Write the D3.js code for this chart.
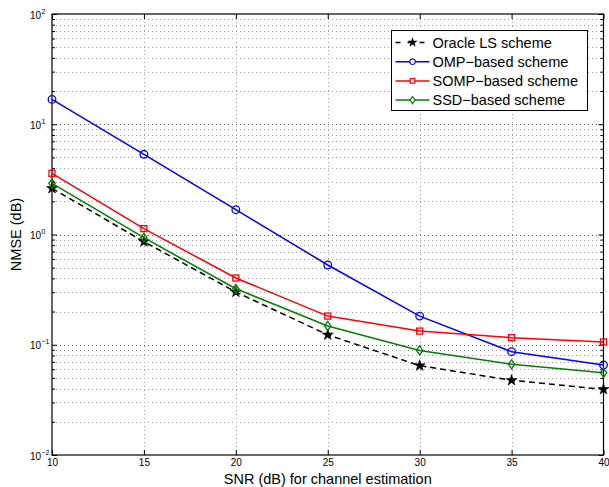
<!DOCTYPE html>
<html>
<head>
<meta charset="utf-8">
<script src="https://cdn.jsdelivr.net/npm/d3@7"></script>
<style>
  html, body { margin: 0; padding: 0; background: #fff; }
  svg { display: block; font-family: "Liberation Sans", Arial, Helvetica, sans-serif; }
</style>
</head>
<body>
<div id="chart"></div>
<script>
// SNR points (dB) shared by all schemes
const snr = [10, 15, 20, 25, 30, 35, 40];

// NMSE values per estimation scheme
const oracleLS = [2.62, 0.861, 0.301, 0.123, 0.0646, 0.0476, 0.0394];
const ompBased = [16.8, 5.34, 1.68, 0.529, 0.182, 0.0865, 0.0655];
const sompBased = [3.59, 1.13, 0.403, 0.182, 0.133, 0.116, 0.106];
const ssdBased = [2.91, 0.935, 0.322, 0.148, 0.0887, 0.0665, 0.0557];

const seriesNames = ["Oracle LS scheme", "OMP\u2212based scheme", "SOMP\u2212based scheme", "SSD\u2212based scheme"];

// Axis tick values
const xTicks = [10, 15, 20, 25, 30, 35, 40];
const yDecades = [-2, -1, 0, 1, 2];

const W = 609, H = 487;
const margin = { left: 52, right: 5.5, top: 14, bottom: 32 };

const svg = d3.select("#chart").append("svg")
  .attr("width", W).attr("height", H);

const x = d3.scaleLinear().domain([10, 40]).range([margin.left, W - margin.right]);
const y = d3.scaleLog().domain([1e-2, 1e2]).range([H - margin.bottom, margin.top]);

const [xl, xr] = x.range();
const [yb, yt] = y.range();

// Minor positions: 2..9 in each decade
const minorY = [];
for (let e = -2; e < 2; e++) for (let m = 2; m <= 9; m++) minorY.push(m * Math.pow(10, e));
const majorY = yDecades.map(e => Math.pow(10, e));

// Dotted grid
const grid = svg.append("g").attr("fill", "none").attr("stroke-width", 1).attr("stroke-dasharray", "1,3");
grid.selectAll("line.minor").data(minorY).join("line")
  .attr("class", "minor")
  .attr("x1", xl).attr("x2", xr)
  .attr("y1", d => Math.round(y(d)) + 0.5).attr("y2", d => Math.round(y(d)) + 0.5)
  .attr("stroke", "#a0a0a0");
grid.selectAll("line.major").data(majorY.slice(1, -1)).join("line")
  .attr("class", "major")
  .attr("x1", xl).attr("x2", xr)
  .attr("y1", d => Math.round(y(d)) + 0.5).attr("y2", d => Math.round(y(d)) + 0.5)
  .attr("stroke", "#555");
grid.selectAll("line.vx").data(xTicks.slice(1, -1)).join("line")
  .attr("class", "vx")
  .attr("x1", d => Math.round(x(d)) + 0.5).attr("x2", d => Math.round(x(d)) + 0.5)
  .attr("y1", yt).attr("y2", yb)
  .attr("stroke", "#a0a0a0");

// Axes with inward ticks on all four sides
const axB = d3.axisBottom(x).tickValues(xTicks).tickSizeInner(-5).tickSizeOuter(0).tickPadding(4).tickFormat(d3.format("d"));
const axT = d3.axisTop(x).tickValues(xTicks).tickSizeInner(-5).tickSizeOuter(0).tickFormat("");
const axL = d3.axisLeft(y).tickValues(majorY).tickSizeInner(-5).tickSizeOuter(0).tickFormat("");
const axR = d3.axisRight(y).tickValues(majorY).tickSizeInner(-5).tickSizeOuter(0).tickFormat("");
const axLm = d3.axisLeft(y).tickValues(minorY).tickSizeInner(-3).tickSizeOuter(0).tickFormat("");
const axRm = d3.axisRight(y).tickValues(minorY).tickSizeInner(-3).tickSizeOuter(0).tickFormat("");

function styleAxis(g) {
  g.selectAll(".domain").remove();
  g.selectAll("line").attr("stroke", "#000");
  g.selectAll("text").attr("font-size", 10).attr("fill", "#000").attr("font-family", "Liberation Sans, Arial, sans-serif");
}
svg.append("g").attr("transform", `translate(0,${yb})`).call(axB).call(styleAxis);
svg.append("g").attr("transform", `translate(0,${yt})`).call(axT).call(styleAxis);
svg.append("g").attr("transform", `translate(${xl},0)`).call(axL).call(styleAxis);
svg.append("g").attr("transform", `translate(${xr},0)`).call(axR).call(styleAxis);
svg.append("g").attr("transform", `translate(${xl},0)`).call(axLm).call(styleAxis);
svg.append("g").attr("transform", `translate(${xr},0)`).call(axRm).call(styleAxis);

// Y tick labels as 10^n
const yLab = svg.append("g").attr("fill", "#000");
yDecades.forEach(e => {
  yLab.append("text")
    .attr("x", xl - 11).attr("y", y(Math.pow(10, e)) + 4.5)
    .attr("text-anchor", "end").attr("font-size", 10)
    .text("10");
  yLab.append("text")
    .attr("x", xl - 10.5).attr("y", y(Math.pow(10, e)) - 0.5)
    .attr("font-size", 7)
    .text(e < 0 ? "\u2212" + Math.abs(e) : String(e));
});

// Plot frame
svg.append("rect")
  .attr("x", xl).attr("y", yt).attr("width", xr - xl).attr("height", yb - yt)
  .attr("fill", "none").attr("stroke", "#000").attr("stroke-width", 1.2);

// Axis titles
svg.append("text")
  .attr("x", (xl + xr) / 2).attr("y", H - 3)
  .attr("text-anchor", "middle").attr("font-size", 14.5)
  .text("SNR (dB) for channel estimation");
svg.append("text")
  .attr("transform", `translate(21,${(yt + yb) / 2}) rotate(-90)`)
  .attr("text-anchor", "middle").attr("font-size", 14.5)
  .text("NMSE (dB)");

// Marker shapes
const diamondPath = "M0,-4.5L3.2,0L0,4.5L-3.2,0Z";
const markers = {
  star: g => g.append("path").attr("d", d3.symbol(d3.symbolStar, 38)()).attr("fill", "#000").attr("stroke", "#000").attr("stroke-width", 0.6),
  circle: (g, c) => g.append("circle").attr("r", 3.8).attr("fill", "none").attr("stroke", c).attr("stroke-width", 1.3),
  square: (g, c) => g.append("rect").attr("x", -3).attr("y", -3).attr("width", 6).attr("height", 6).attr("fill", "none").attr("stroke", c).attr("stroke-width", 1.3),
  diamond: (g, c) => g.append("path").attr("d", diamondPath).attr("fill", "none").attr("stroke", c).attr("stroke-width", 1.3)
};

const series = [
  { name: seriesNames[0], values: oracleLS, color: "#000", dash: "6,4", marker: "star" },
  { name: seriesNames[1], values: ompBased, color: "#0000ff", dash: null, marker: "circle" },
  { name: seriesNames[2], values: sompBased, color: "#ff0000", dash: null, marker: "square" },
  { name: seriesNames[3], values: ssdBased, color: "#008000", dash: null, marker: "diamond" }
];

const line = d3.line().x(d => x(d[0])).y(d => y(d[1]));

const plot = svg.append("g");
series.forEach(s => {
  const pts = snr.map((v, i) => [v, s.values[i]]);
  plot.append("path").datum(pts)
    .attr("d", line).attr("fill", "none")
    .attr("stroke", s.color).attr("stroke-width", 1.5)
    .attr("stroke-dasharray", s.dash);
  pts.forEach(p => {
    const g = plot.append("g").attr("transform", `translate(${x(p[0])},${y(p[1])})`);
    markers[s.marker](g, s.color);
  });
});

// Legend
const lg = svg.append("g");
const lgX = 391.5, lgY = 30.5, lgW = 196, lgH = 80;
lg.append("rect").attr("x", lgX).attr("y", lgY).attr("width", lgW).attr("height", lgH)
  .attr("fill", "#fff").attr("stroke", "#000").attr("stroke-width", 1);
series.forEach((s, i) => {
  const cy = 42.5 + i * 19.2;
  lg.append("line").attr("x1", lgX + 4).attr("x2", lgX + 38).attr("y1", cy).attr("y2", cy)
    .attr("stroke", s.color).attr("stroke-width", 1.5).attr("stroke-dasharray", s.dash ? "5,7" : null);
  const g = lg.append("g").attr("transform", `translate(${lgX + 21},${cy})`);
  if (s.marker === "circle") g.append("circle").attr("r", 2.8).attr("fill", "#fff").attr("stroke", s.color).attr("stroke-width", 1.2);
  else if (s.marker === "square") g.append("rect").attr("x", -2.3).attr("y", -2.3).attr("width", 4.6).attr("height", 4.6).attr("fill", "#fff").attr("stroke", s.color).attr("stroke-width", 1.2);
  else if (s.marker === "diamond") g.append("path").attr("d", "M0,-3.5L2.5,0L0,3.5L-2.5,0Z").attr("fill", "#fff").attr("stroke", s.color).attr("stroke-width", 1.2);
  else g.append("path").attr("d", d3.symbol(d3.symbolStar, 32)()).attr("fill", "#000");
  lg.append("text").attr("x", lgX + 41).attr("y", cy + 5).attr("font-size", 14.5).text(s.name);
});
</script>
</body>
</html>
